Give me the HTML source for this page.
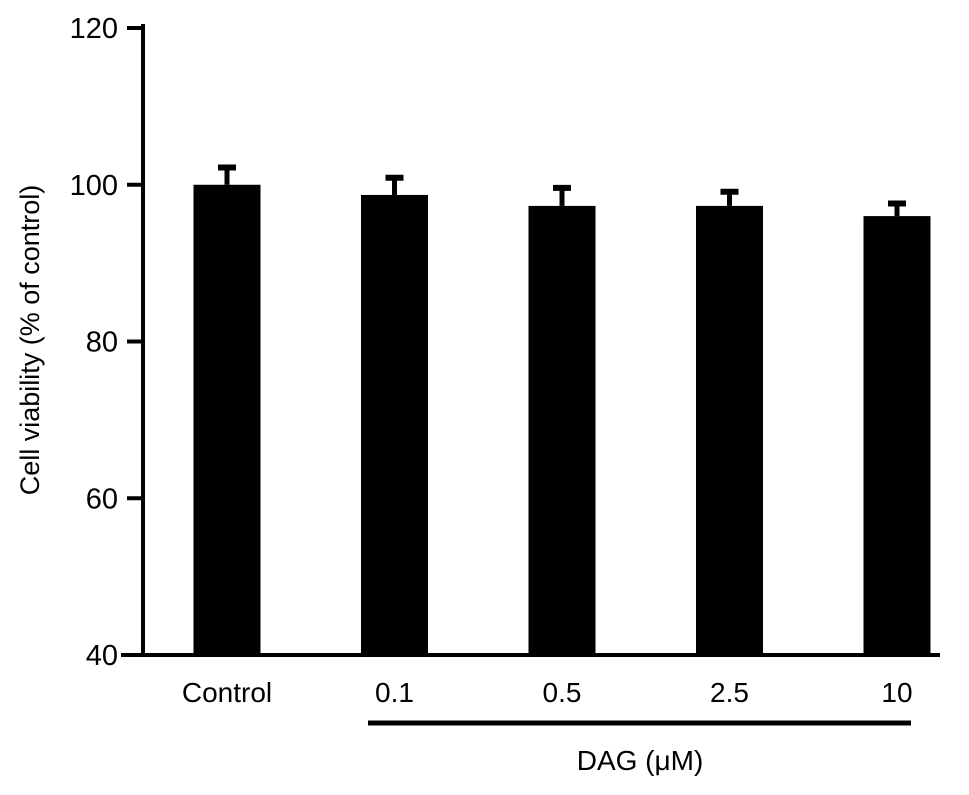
<!DOCTYPE html>
<html><head><meta charset="utf-8"><style>
html,body{margin:0;padding:0;background:#fff;}
svg text{font-family:"Liberation Sans",Arial,sans-serif;fill:#000;}
</style></head><body>
<svg id="chart" width="969" height="790" viewBox="0 0 969 790" xmlns="http://www.w3.org/2000/svg">
<g id="bars"></g>
<g id="axes"></g>
</svg>
<script>
const categories = ["Control","0.1","0.5","2.5","10"];
const values = [100, 98.7, 97.3, 97.3, 96.0];
const errors = [2.2, 2.2, 2.3, 1.8, 1.6];
const yTicks = [40, 60, 80, 100, 120];

const NS = "http://www.w3.org/2000/svg";
const gBars = document.getElementById('bars');
const gAxes = document.getElementById('axes');
const yMin = 40, yMax = 120, y0 = 655, y1 = 28;
function yScale(v){ return y0 - (v - yMin) / (yMax - yMin) * (y0 - y1); }
const firstCenter = 227, step = 167.5, barW = 67;
function xScale(i){ return firstCenter + i * step; }
function mk(tag, attrs, parent){ const e=document.createElementNS(NS,tag); for(const k in attrs) e.setAttribute(k,attrs[k]); parent.appendChild(e); return e; }

categories.forEach((c,i)=>{
  const cx = xScale(i), top = yScale(values[i]), et = yScale(values[i]+errors[i]);
  const eb = mk('line',{x1:cx,x2:cx,y1:top,y2:et,stroke:'#000','stroke-width':5},gBars);
  
  
  const cap = mk('line',{x1:cx-9,x2:cx+9,y1:et,y2:et,stroke:'#000','stroke-width':6},gBars);
  
  
  const r = mk('rect',{x:cx-barW/2,y:top,width:barW,height:y0-top,fill:'#000'},gBars);
  
  
  const t = mk('text',{x:cx,y:702,'font-size':28,'text-anchor':'middle'},gAxes);
  t.textContent = c;
  
  
});

const ya = mk('line',{x1:143,x2:143,y1:24,y2:657,stroke:'#000','stroke-width':4},gAxes);


const xa = mk('line',{x1:121,x2:940,y1:655,y2:655,stroke:'#000','stroke-width':4},gAxes);


yTicks.forEach(v=>{
  const y = yScale(v);
  const tk = mk('line',{x1:127,x2:143,y1:y,y2:y,stroke:'#000','stroke-width':4},gAxes);
  
  
  const tl = mk('text',{x:118,y:y+10,'font-size':29,'text-anchor':'end'},gAxes);
  tl.textContent = v;
  
  
});
const yt = mk('text',{x:0,y:0,'font-size':27,'text-anchor':'middle',transform:'translate(39,340) rotate(-90)'},gAxes);
yt.textContent = 'Cell viability (% of control)';


const gl = mk('line',{x1:368,x2:911,y1:723,y2:723,stroke:'#000','stroke-width':5},gAxes);


const gt = mk('text',{x:640,y:770,'font-size':28,'text-anchor':'middle'},gAxes);
gt.textContent = 'DAG (\u03bcM)';


</script>
</body></html>
